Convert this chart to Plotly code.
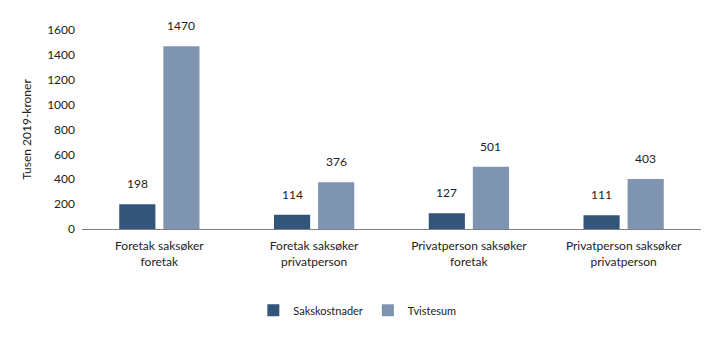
import plotly.graph_objects as go

categories = [
    "Foretak saksøker<br>foretak",
    "Foretak saksøker<br>privatperson",
    "Privatperson saksøker<br>foretak",
    "Privatperson saksøker<br>privatperson",
]
sakskostnader = [198, 114, 127, 111]
tvistesum = [1470, 376, 501, 403]
y_ticks = [0, 200, 400, 600, 800, 1000, 1200, 1400, 1600]

dark = "#34557a"
light = "#7f94b0"
font = "Lato"

fig = go.Figure()
fig.add_trace(go.Bar(name="Sakskostnader", x=categories, y=sakskostnader,
                     marker=dict(color=dark, line=dict(width=0))))
fig.add_trace(go.Bar(name="Tvistesum", x=categories, y=tvistesum,
                     marker=dict(color=light, line=dict(width=0))))

# value labels floated above each bar
for vals, shift in ((sakskostnader, -22), (tvistesum, 22)):
    for c, v in zip(categories, vals):
        fig.add_annotation(x=c, y=v, text=str(v), showarrow=False,
                           xshift=shift, yshift=11, yanchor="bottom",
                           font=dict(family=font, size=12, color="#222"))

fig.update_layout(
    width=719, height=341,
    margin=dict(l=82, r=18, t=30, b=112),
    paper_bgcolor="white", plot_bgcolor="white",
    barmode="group", bargap=0.43, bargroupgap=0.18,
    font=dict(family=font, size=12, color="#222"),
    showlegend=True,
    legend=dict(orientation="h", xref="container", x=0.497, xanchor="center",
                yref="container", y=0.09, yanchor="middle",
                font=dict(family=font, size=11), itemwidth=30),
    xaxis=dict(showline=True, linecolor="#808080", linewidth=1,
               ticks="", ticklabelstandoff=6,
               tickfont=dict(family=font, size=12)),
    yaxis=dict(range=[0, 1600], tickvals=y_ticks, showgrid=False,
               zeroline=False, showline=False, ticks="",
               ticklabelstandoff=6,
               tickfont=dict(family=font, size=12),
               title=dict(text="Tusen 2019-kroner", standoff=12,
                          font=dict(family=font, size=12))),
)

fig.write_html("out.html")
